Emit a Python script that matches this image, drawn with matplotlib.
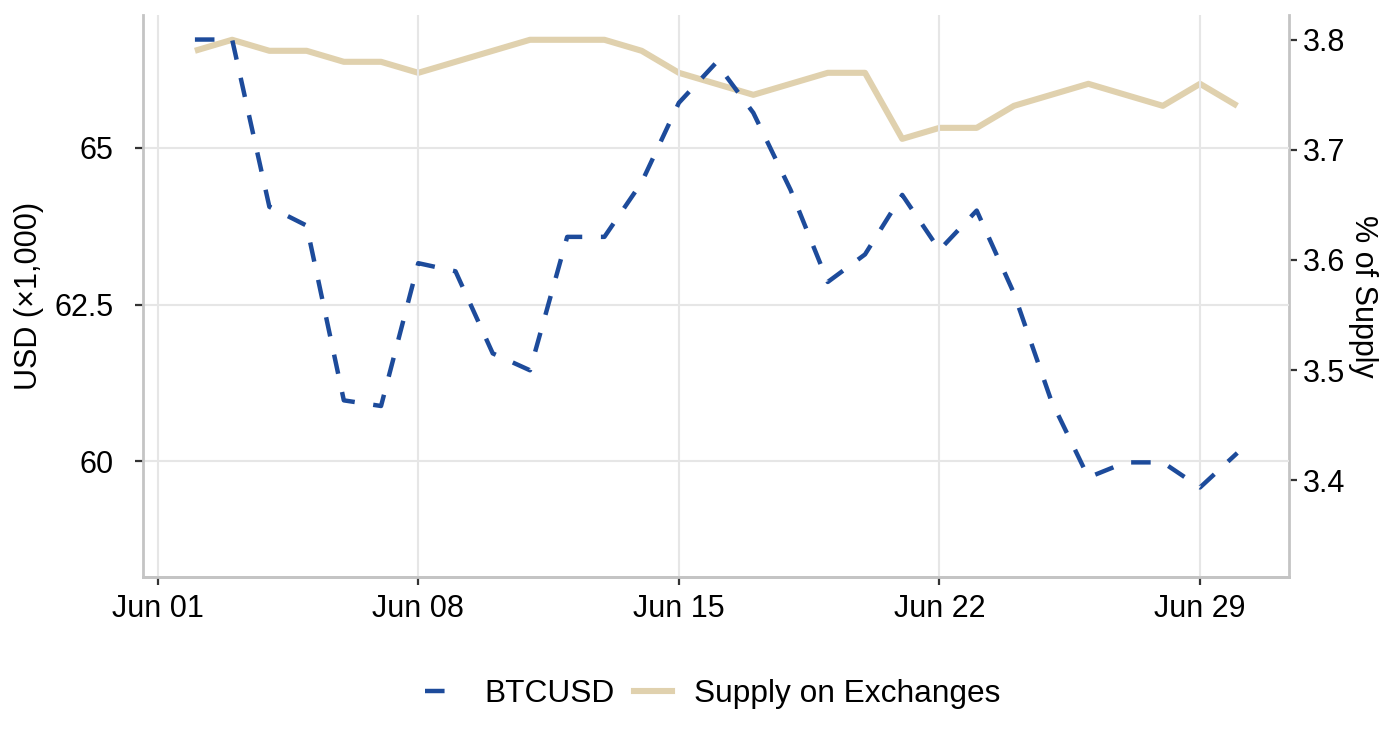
import pandas as pd
import matplotlib
matplotlib.use("Agg")
import matplotlib.pyplot as plt
import matplotlib.dates as mdates
from matplotlib.lines import Line2D

plt.rcParams['font.family'] = ['Liberation Sans', 'DejaVu Sans']

# ---- data ----
dates = pd.date_range("2024-06-02", "2024-06-30", freq="D")
btcusd = [66.73, 66.73, 64.06, 63.76, 60.97, 60.88, 63.16, 63.03, 61.72, 61.45,
          63.58, 63.58, 64.45, 65.72, 66.36, 65.56, 64.33, 62.86, 63.30, 64.25,
          63.37, 64.00, 62.68, 60.97, 59.74, 59.98, 59.98, 59.58, 60.13]
supply = [3.79, 3.80, 3.79, 3.79, 3.78, 3.78, 3.77, 3.78, 3.79, 3.80,
          3.80, 3.80, 3.79, 3.77, 3.76, 3.75, 3.76, 3.77, 3.77, 3.71,
          3.72, 3.72, 3.74, 3.75, 3.76, 3.75, 3.74, 3.76, 3.74]

left_ticks = [60, 62.5, 65]
left_labels = ["60", "62.5", "65"]
right_ticks = [3.4, 3.5, 3.6, 3.7, 3.8]
x_ticks = pd.to_datetime(["2024-06-01", "2024-06-08", "2024-06-15", "2024-06-22", "2024-06-29"])

blue = "#1d4b9b"
tan = "#e0d1ae"
spine_col = "#c4c4c4"
grid_col = "#e6e6e6"
fs = 22
blue_lw = 3.2
tan_lw = 4.4
dash = (4.4, 4.2)

fig = plt.figure(figsize=(14, 7.4), dpi=100)
ax = fig.add_axes([0.102, 0.220, 0.819, 0.760])
ax2 = ax.twinx()

ax.set_zorder(ax2.get_zorder() + 1)
ax.patch.set_visible(False)

ax2.plot(dates, supply, color=tan, lw=tan_lw, solid_capstyle="butt", zorder=2)
ax.plot(dates, btcusd, color=blue, lw=blue_lw, dashes=dash, zorder=3)

# x range with 5% padding
span = dates[-1] - dates[0]
ax.set_xlim(dates[0] - span * 0.05, dates[-1] + span * 0.05)
ax.set_ylim(58.147, 67.125)
ax2.set_ylim(3.3118, 3.8227)

ax.set_xticks(x_ticks)
ax.xaxis.set_major_formatter(mdates.DateFormatter("%b %d"))
ax.set_yticks(left_ticks)
ax.set_yticklabels(left_labels)
ax2.set_yticks(right_ticks)
ax2.set_yticklabels([f"{v:.1f}" for v in right_ticks])

ax.grid(True, color=grid_col, lw=1.5, zorder=0)
ax.set_axisbelow(True)

for a in (ax, ax2):
    for s in a.spines.values():
        s.set_color(spine_col)
        s.set_linewidth(2.0)
    a.spines["top"].set_visible(False)
    a.tick_params(labelsize=fs, length=6, width=1.6, color="#333333", labelcolor="black", pad=4)
ax2.spines["left"].set_visible(False)
ax.spines["right"].set_visible(False)
ax.tick_params(axis="y", pad=15)
ax.tick_params(axis="x", pad=6)

ax.set_ylabel("USD (×1,000)", fontsize=fs)
ax.yaxis.set_label_coords(-0.086, 0.5)
ax2.set_ylabel("% of Supply", fontsize=fs, rotation=270, va="bottom")
ax2.yaxis.set_label_coords(1.051, 0.5)

handles = [Line2D([], [], color=blue, lw=blue_lw, dashes=dash),
           Line2D([], [], color=tan, lw=tan_lw)]
ax.legend(handles, ["BTCUSD", "Supply on Exchanges"], loc="center",
          bbox_to_anchor=(0.497, -0.207), ncol=2, frameon=False, fontsize=22.8,
          handlelength=1.2, columnspacing=0.6, handletextpad=0.7)

fig.savefig("out.png", dpi=100)
